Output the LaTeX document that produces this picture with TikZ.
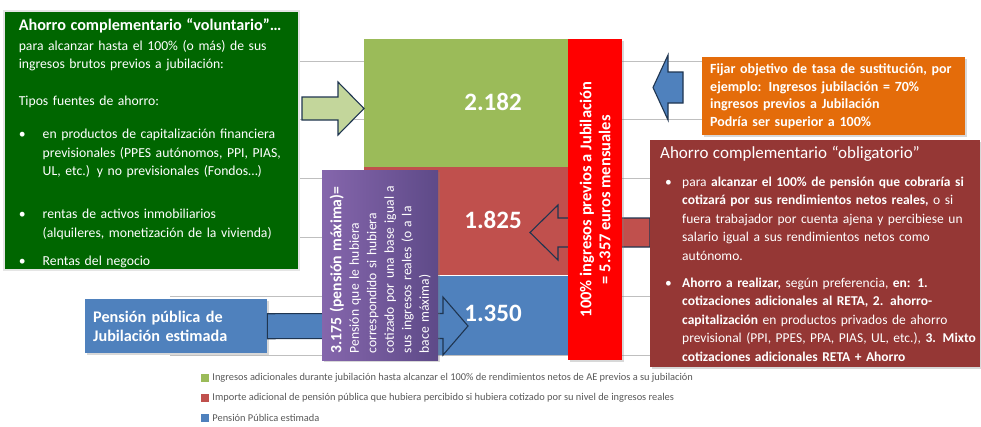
\documentclass[tikz,border=0pt]{standalone}
\usepackage{fontspec}
\setmainfont{Carlito}
\usetikzlibrary{calc,shadows}

\definecolor{barGreen}{HTML}{9BBB59}
\definecolor{barRed}{HTML}{C0504D}
\definecolor{barBlue}{HTML}{4F81BD}
\definecolor{boxGreen}{HTML}{006600}
\definecolor{boxOrange}{HTML}{E46C0A}
\definecolor{boxDarkRed}{HTML}{953735}
\definecolor{boxPurpleA}{HTML}{8566AC}
\definecolor{boxPurpleB}{HTML}{5E4A88}
\definecolor{arrowGreen}{HTML}{C3D69B}
\definecolor{arrowLine}{HTML}{1F3550}
\definecolor{gridGray}{HTML}{BFBFBF}
\definecolor{legendGray}{HTML}{595959}

% block arrow: style, tail, tip, half body, half head, head length
\newcommand\blockarrow[6]{%
  \coordinate (ba-base) at ($(#3)!#6!(#2)$);
  \draw[#1] ($(#2)+(0,#4)$) -- ($(ba-base)+(0,#4)$) -- ($(ba-base)+(0,#5)$) -- (#3)
    -- ($(ba-base)-(0,#5)$) -- ($(ba-base)-(0,#4)$) -- ($(#2)-(0,#4)$) -- cycle;}

\begin{document}
\begin{tikzpicture}[x=1pt,y=-1pt,
  every node/.style={text=white,inner sep=0pt},
  bar/.style={rectangle,minimum width=258pt,anchor=south},
  barnum/.style={font=\fontsize{25}{28}\selectfont\bfseries},
  infobox/.style={rectangle,anchor=north west,
    drop shadow={opacity=0.3,shadow xshift=1.5pt,shadow yshift=-1.5pt}},
  blockarrow/.style={draw=arrowLine,line width=1.1pt,line join=miter}]
\fill[white] (0,0) rectangle (981,426);
\useasboundingbox (0,0) rectangle (981,426);

\foreach \gy in {61,119.8,178.6,237.4,296.2,355}
  \draw[gridGray,line width=1pt] (170,\gy) -- (816,\gy);

\node[bar,fill=barBlue,minimum height=79pt] (azul) at (493,355) {};
\node[bar,fill=barRed,minimum height=108pt] (rojo) at (azul.north) {};
\node[bar,fill=barGreen,minimum height=128pt] (verde) at (rojo.north) {};

\node[infobox,fill=boxGreen,draw=black!10,line width=1.5pt,minimum width=295pt,
  minimum height=259pt,text width=265pt,align=left,
  font=\fontsize{13.7}{18.5}\selectfont] (voluntario) at (3,10)
  {\rule{0pt}{17pt}{\fontsize{16.2}{18.5}\selectfont\bfseries Ahorro complementario “voluntario”…}\\[1.5pt]
   para alcanzar hasta el 100\% (o más) de sus\\
   ingresos brutos previos a jubilación:\\[18.5pt]
   Tipos fuentes de ahorro:\\[14.5pt]
   \makebox[24pt][l]{•}en productos de capitalización financiera\\
   \hspace*{24pt}previsionales (PPES autónomos, PPI, PIAS,\\
   \hspace*{24pt}UL, etc.) y no  previsionales (Fondos…)\\[24.5pt]
   \makebox[24pt][l]{•}rentas de activos inmobiliarios\\
   \hspace*{24pt}(alquileres, monetización de la vivienda)\\[9.5pt]
   \makebox[24pt][l]{•}Rentas del negocio};

\node[infobox,fill=boxOrange,minimum width=263pt,minimum height=78pt,text width=247pt,
  align=left,font=\fontsize{14}{17.7}\selectfont\bfseries] (objetivo) at (702,57)
  {Fijar objetivo de tasa de sustitución, por\\ ejemplo: Ingresos jubilación = 70\%\\
   ingresos previos a Jubilación\\ Podría ser superior a 100\%};

\node[infobox,fill=barBlue,minimum width=182pt,minimum height=54pt,text width=166pt,
  align=left,font=\fontsize{16.2}{19}\selectfont\bfseries] (pension) at (85,299)
  {Pensión pública de\\ Jubilación estimada};

\coordinate (volTail) at (302,108.5);
\coordinate (volTip) at (364,108.5);
\coordinate (objTail) at (683,87.5);
\coordinate (objTip) at (653,87.5);
\coordinate (oblTail) at (650,232.5);
\coordinate (oblTip) at (530,232.5);
\coordinate (penTip) at (468,326);
\blockarrow{blockarrow,fill=arrowGreen}{volTail}{volTip}{11.5}{26.5}{26pt}
\blockarrow{blockarrow,fill=barBlue}{objTail}{objTip}{15.5}{32.5}{15pt}
\blockarrow{blockarrow,fill=barRed}{oblTail}{oblTip}{14.5}{27.5}{28pt}
\blockarrow{blockarrow,fill=barBlue}{pension.east}{penTip}{12.5}{29}{25pt}

\node[barnum] (valverde) at ([yshift=1.5pt]verde) {2.182};
\node[barnum] (valrojo) at ([yshift=1.5pt]rojo) {1.825};
\node[barnum] (valazul) at ([yshift=1.5pt]azul) {1.350};

\node[infobox,fill=red,minimum width=54pt,minimum height=321pt] (cien) at (568,39) {};
\node[rotate=90,align=center,font=\fontsize{16.5}{19}\selectfont\bfseries] (cientxt)
  at (cien.center) {100\% ingresos previos a Jubilación\\ = 5.357 euros mensuales};

\node[infobox,fill=boxDarkRed,minimum width=330pt,minimum height=227pt,text width=310pt,
  align=left,font=\fontsize{13.5}{18.5}\selectfont] (obligatorio) at (650,140)
  {{\fontsize{17}{18.5}\selectfont Ahorro complementario “obligatorio”}\\[9.5pt]
   \hspace*{5pt}\makebox[17pt][l]{•}para \textbf{alcanzar el 100\% de pensión que cobraría si}\\
   \hspace*{22pt}\textbf{cotizará por sus rendimientos netos reales,} o si\\
   \hspace*{22pt}\mbox{fuera trabajador por cuenta ajena y percibiese  un}\\
   \hspace*{22pt}salario igual a sus rendimientos netos como\\
   \hspace*{22pt}autónomo.\\[8.5pt]
   \hspace*{5pt}\makebox[17pt][l]{•}\textbf{Ahorro a realizar,} según preferencia, \textbf{en:  1.}\\
   \hspace*{22pt}\textbf{cotizaciones adicionales al RETA, 2.  ahorro-}\\
   \hspace*{22pt}\textbf{capitalización} en productos privados de ahorro\\
   \hspace*{22pt}\mbox{previsional (PPI, PPES, PPA, PIAS, UL, etc.), \textbf{3. Mixto}}\\
   \hspace*{22pt}\textbf{cotizaciones adicionales RETA + Ahorro}};

\node[infobox,left color=boxPurpleA,right color=boxPurpleB,minimum width=116pt,
  minimum height=190pt] (maxima) at (322,170) {};
\node[rotate=90,text width=176pt,align=left,font=\fontsize{13.6}{17.5}\selectfont]
  (maximatxt) at (maxima.center)
  {{\fontsize{15.7}{17.5}\selectfont\bfseries 3.175 (pensión máxima)=}\\
   Pensión que le hubiera\\ correspondido si hubiera\\ cotizado por una base igual a\\
   sus ingresos reales (o a la\\ bace máxima)};

\foreach \ly/\lc/\lt in {378/barGreen/{Ingresos adicionales durante jubilación hasta alcanzar el 100\% de rendimientos netos de AE previos a su jubilación},
    398/barRed/{Importe adicional de pensión pública que hubiera percibido si hubiera cotizado por su nivel de ingresos reales},
    418/barBlue/{Pensión Pública estimada}}{
  \node[fill=\lc,minimum size=8pt] (cuadro\ly) at (205,\ly) {};
  \node[anchor=west,text=legendGray,font=\fontsize{10.4}{12}\selectfont] (leyenda\ly)
    at ([xshift=3pt]cuadro\ly.east) {\lt};
}
\end{tikzpicture}
\end{document}
